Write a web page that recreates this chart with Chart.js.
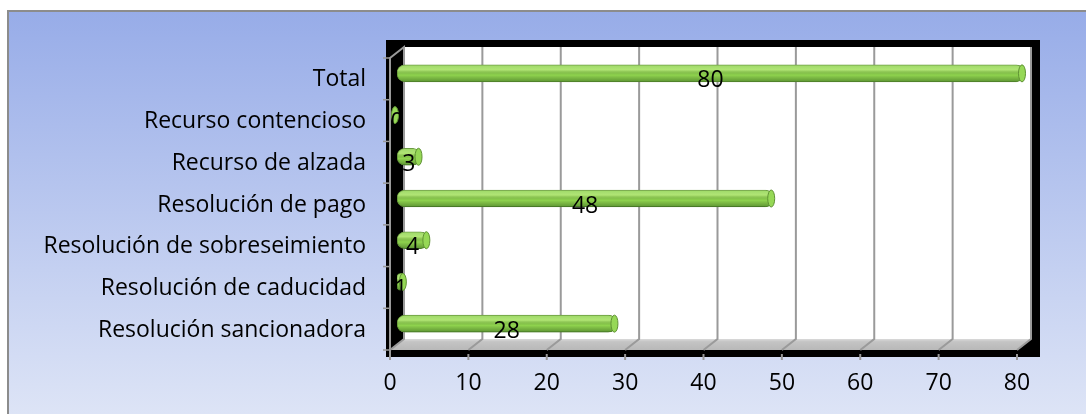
<!DOCTYPE html>
<html>
<head>
<meta charset="utf-8">
<script src="https://cdn.jsdelivr.net/npm/chart.js@4"></script>
<style>
    body { margin: 0; background: #fff; }
    canvas { display: block; }
</style>
</head>
<body>
<canvas id="tramites" width="1086" height="414"></canvas>
<script>
    const categories = [
        'Total',
        'Recurso contencioso',
        'Recurso de alzada',
        'Resolución de pago',
        'Resolución de sobreseimiento',
        'Resolución de caducidad',
        'Resolución sancionadora'
    ];
    const counts = [80, 0, 3, 48, 4, 1, 28];
    const xTicks = [0, 10, 20, 30, 40, 50, 60, 70, 80];

    const FONT = '"Open Sans", Lato, sans-serif';
    const FSIZE = 23;
    const DX = 7, DY = 5.5; // half depth of the 3D box

    // background + 3D walls
    const wallsPlugin = {
        id: 'walls',
        beforeDraw(chart) {
            const ctx = chart.ctx;
            const x = chart.scales.x;
            const area = chart.chartArea;

            ctx.save();
            ctx.fillStyle = '#fff';
            ctx.fillRect(0, 0, chart.width, chart.height);
            const bg = ctx.createLinearGradient(0, 10, 0, chart.height);
            bg.addColorStop(0, '#97ace8');
            bg.addColorStop(1, '#dde4f6');
            ctx.fillStyle = bg;
            ctx.fillRect(7, 10, chart.width - 7, chart.height - 10);
            ctx.strokeStyle = '#8c8c8c';
            ctx.lineWidth = 2;
            ctx.beginPath();
            ctx.moveTo(8, chart.height);
            ctx.lineTo(8, 11);
            ctx.lineTo(chart.width, 11);
            ctx.stroke();

            const x0 = x.getPixelForValue(0), x1 = x.getPixelForValue(80);
            const backTop = area.top - DY, backBottom = area.bottom - DY;
            const frontTop = area.top + DY, frontBottom = area.bottom + DY;

            // black frame
            ctx.fillStyle = '#000';
            ctx.fillRect(x0 - DX - 4, backTop - 7, (x1 + DX + 9) - (x0 - DX - 4), (frontBottom + 7) - (backTop - 7));

            // back wall
            ctx.fillStyle = '#fff';
            ctx.fillRect(x0 + DX, backTop, x1 - x0, backBottom - backTop);

            // floor
            const fl = ctx.createLinearGradient(0, backBottom, 0, frontBottom);
            fl.addColorStop(0, '#dadada');
            fl.addColorStop(0.25, '#c4c4c4');
            fl.addColorStop(1, '#b8b8b8');
            ctx.fillStyle = fl;
            ctx.beginPath();
            ctx.moveTo(x0 + DX, backBottom);
            ctx.lineTo(x1 + DX, backBottom);
            ctx.lineTo(x1 - DX, frontBottom);
            ctx.lineTo(x0 - DX, frontBottom);
            ctx.closePath();
            ctx.fill();

            // grid on back wall and floor, ticks below
            ctx.strokeStyle = '#9a9a9a';
            ctx.lineWidth = 2;
            xTicks.forEach(v => {
                const px = x.getPixelForValue(v);
                ctx.beginPath();
                ctx.moveTo(px + DX, backTop);
                ctx.lineTo(px + DX, backBottom);
                ctx.lineTo(px - DX, frontBottom);
                ctx.stroke();
                ctx.beginPath();
                ctx.moveTo(px - DX, frontBottom + 4);
                ctx.lineTo(px - DX, frontBottom + 10);
                ctx.stroke();
            });

            // left wall edges
            ctx.beginPath();
            ctx.moveTo(x0 + DX, backBottom);
            ctx.lineTo(x0 + DX, backTop);
            ctx.lineTo(x0 - DX, frontTop);
            ctx.lineTo(x0 - DX, frontBottom + 4);
            ctx.stroke();

            // category ticks on the left wall
            ctx.lineWidth = 1.5;
            for (let i = 0; i <= categories.length; i++) {
                const ty = area.top + (area.bottom - area.top) * i / categories.length + DY;
                ctx.beginPath();
                ctx.moveTo(x0 - DX - 7, ty);
                ctx.lineTo(x0 - DX, ty);
                ctx.stroke();
            }
            ctx.restore();
        }
    };

    // cylinder shading, end caps and value labels
    const barsPlugin = {
        id: 'bars',
        afterDatasetsDraw(chart) {
            const ctx = chart.ctx;
            const meta = chart.getDatasetMeta(0);
            ctx.save();
            meta.data.forEach((bar, i) => {
                const h = bar.height;
                const top = bar.y - h / 2;
                const left = bar.base, right = bar.x;

                if (right - left > 1) {
                    const g = ctx.createLinearGradient(0, top, 0, top + h);
                    g.addColorStop(0, 'rgba(255,255,255,0.1)');
                    g.addColorStop(0.3, 'rgba(225,255,170,0.4)');
                    g.addColorStop(0.6, 'rgba(0,0,0,0)');
                    g.addColorStop(1, 'rgba(0,40,0,0.35)');
                    ctx.fillStyle = g;
                    ctx.beginPath();
                    ctx.roundRect(left, top, right - left, h, h / 2);
                    ctx.fill();
                }

                // end cap
                ctx.fillStyle = '#96d856';
                ctx.strokeStyle = '#5f9233';
                ctx.lineWidth = 1;
                ctx.beginPath();
                ctx.ellipse(right - 2, bar.y, 3.5, h / 2, 0, 0, Math.PI * 2);
                ctx.fill();
                ctx.stroke();

                // value
                ctx.fillStyle = '#000';
                ctx.font = FSIZE + 'px ' + FONT;
                ctx.textAlign = 'center';
                ctx.textBaseline = 'middle';
                ctx.fillText(String(counts[i]), (left + right) / 2, bar.y + DY + 2);
            });
            ctx.restore();
        }
    };

    new Chart(document.getElementById('tramites'), {
        type: 'bar',
        data: {
            labels: categories,
            datasets: [{
                data: counts,
                backgroundColor: '#8fd44e',
                borderColor: '#5f9233',
                borderWidth: 1,
                borderSkipped: false,
                borderRadius: 8,
                barThickness: 17
            }]
        },
        options: {
            indexAxis: 'y',
            responsive: false,
            animation: false,
            events: [],
            layout: { padding: { top: 52.5, right: 62, left: 0, bottom: 0 } },
            plugins: {
                legend: { display: false },
                tooltip: { enabled: false }
            },
            scales: {
                x: {
                    min: 0,
                    max: 80,
                    afterFit: s => { s.height = 69.5; },
                    afterBuildTicks: s => { s.ticks = xTicks.map(v => ({ value: v })); },
                    grid: { display: false, drawTicks: false },
                    border: { display: false },
                    ticks: {
                        color: '#000',
                        font: { family: FONT, size: FSIZE },
                        padding: 25,
                        labelOffset: -DX,
                        maxRotation: 0
                    }
                },
                y: {
                    afterFit: s => { s.width = 397; },
                    grid: { display: false, drawTicks: false },
                    border: { display: false },
                    ticks: {
                        color: '#000',
                        font: { family: FONT, size: FSIZE },
                        padding: 31,
                        labelOffset: DY + 1
                    }
                }
            }
        },
        plugins: [wallsPlugin, barsPlugin]
    });
</script>
</body>
</html>
